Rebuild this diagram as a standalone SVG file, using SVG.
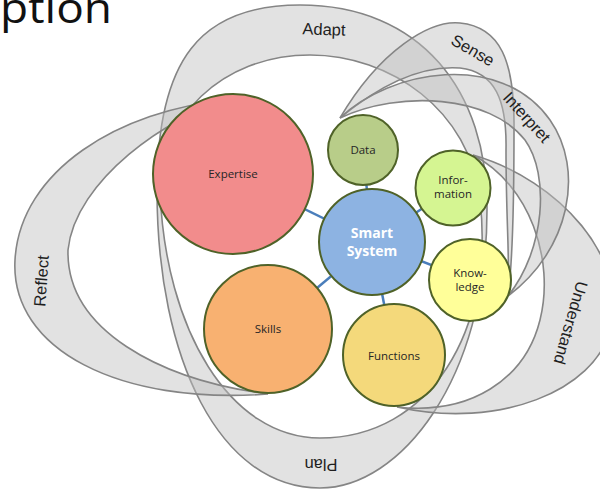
<svg xmlns="http://www.w3.org/2000/svg" width="600" height="490" viewBox="0 0 600 490">
  <style>
    .band { fill: #bfbfbf; fill-opacity: 0.45; stroke: #858585; stroke-width: 1.6; fill-rule: evenodd; }
    .blabel { font-family: "Liberation Sans", Arial, sans-serif; font-size: 16.5px; fill: #1e1e1e; text-anchor: middle; dominant-baseline: central; }
    .node { stroke: #4f6228; stroke-width: 2; }
    .nlabel { font-family: "Open Sans", "Liberation Sans", sans-serif; font-size: 11.5px; fill: #262626; text-anchor: middle; }
    .link { stroke: #4a7ebb; stroke-width: 2.5; }
  </style>

  <!-- title fragment -->
  <text x="0" y="23" font-family="Open Sans, Liberation Sans, sans-serif" font-size="42" fill="#111" textLength="112" lengthAdjust="spacingAndGlyphs">ption</text>

  <!-- activity loops -->
  <g id="loops">
    <g id="loop-adapt-plan">
      <path class="band" d="M157,190 C157,60 200,5 300,5 C420,5 488,90 487,210 C487,380 400,488 320,488 C220,488 157,360 157,190 Z
                            M160,190 C160,120 220,55 310,55 C390,55 470,110 480,200 C495,330 430,438 320,438 C230,438 165,330 160,190 Z"/>
      <text class="blabel" transform="translate(324,29) rotate(2)">Adapt</text>
      <text class="blabel" transform="translate(321,465) rotate(180)">Plan</text>
    </g>
    <g id="loop-reflect">
      <path class="band" d="M228,100 C120,110 20,170 15,260 C10,350 120,405 268,394 C160,380 66,330 68,250 C75,180 170,115 228,100 Z"/>
      <text class="blabel" transform="translate(41,281) rotate(-86)">Reflect</text>
    </g>
    <g id="loop-understand">
      <path class="band" d="M473,155 C560,180 630,260 610,330 C595,390 500,430 397,407 C470,415 525,380 540,320 C555,260 530,185 473,155 Z"/>
      <text class="blabel" transform="translate(571,323) rotate(106)">Understand</text>
    </g>
    <g id="loop-sense">
      <path class="band" d="M340,118 C380,50 430,20 460,23 C500,27 515,60 514,130 C514,200 513,260 508,296 C510,260 506,220 506,150 C507,100 495,72 460,68 C420,65 380,85 340,118 Z"/>
      <text class="blabel" transform="translate(473,50) rotate(30)">Sense</text>
    </g>
    <g id="loop-interpret">
      <path class="band" d="M340,118 C390,70 500,50 550,120 C585,170 570,250 508,296 C545,250 550,175 525,140 C490,95 400,90 340,118 Z"/>
      <text class="blabel" transform="translate(527,117) rotate(48)">Interpret</text>
    </g>
  </g>

  <!-- hub connectors -->
  <g id="connectors">
    <line class="link" x1="372" y1="242" x2="233" y2="174"/>
    <line class="link" x1="372" y1="242" x2="363" y2="150"/>
    <line class="link" x1="372" y1="242" x2="453" y2="188"/>
    <line class="link" x1="372" y1="242" x2="470" y2="280"/>
    <line class="link" x1="372" y1="242" x2="394" y2="355"/>
    <line class="link" x1="372" y1="242" x2="268" y2="329"/>
  </g>

  <!-- nodes -->
  <g id="expertise">
    <circle class="node" cx="233" cy="174" r="80" fill="#f28c8c"/>
    <text class="nlabel" x="233" y="178">Expertise</text>
  </g>
  <g id="data">
    <circle class="node" cx="363" cy="150" r="35" fill="#b8cd89"/>
    <text class="nlabel" x="363" y="154">Data</text>
  </g>
  <g id="information">
    <circle class="node" cx="453" cy="188" r="37.5" fill="#d5f592"/>
    <text class="nlabel" x="453" y="184">Infor-</text>
    <text class="nlabel" x="453" y="198">mation</text>
  </g>
  <g id="smart-system">
    <circle class="node" cx="372" cy="242" r="53" fill="#8db3e2"/>
    <text x="372" y="238" font-family="Open Sans, Liberation Sans, sans-serif" font-size="14" font-weight="bold" fill="#fff" text-anchor="middle">Smart</text>
    <text x="372" y="256" font-family="Open Sans, Liberation Sans, sans-serif" font-size="14" font-weight="bold" fill="#fff" text-anchor="middle">System</text>
  </g>
  <g id="knowledge">
    <circle class="node" cx="470" cy="280" r="41" fill="#ffff99"/>
    <text class="nlabel" x="470" y="277">Know-</text>
    <text class="nlabel" x="470" y="291">ledge</text>
  </g>
  <g id="functions">
    <circle class="node" cx="394" cy="355" r="51" fill="#f4d97b"/>
    <text class="nlabel" x="394" y="360">Functions</text>
  </g>
  <g id="skills">
    <circle class="node" cx="268" cy="329" r="64" fill="#f8b171"/>
    <text class="nlabel" x="268" y="333">Skills</text>
  </g>
</svg>
